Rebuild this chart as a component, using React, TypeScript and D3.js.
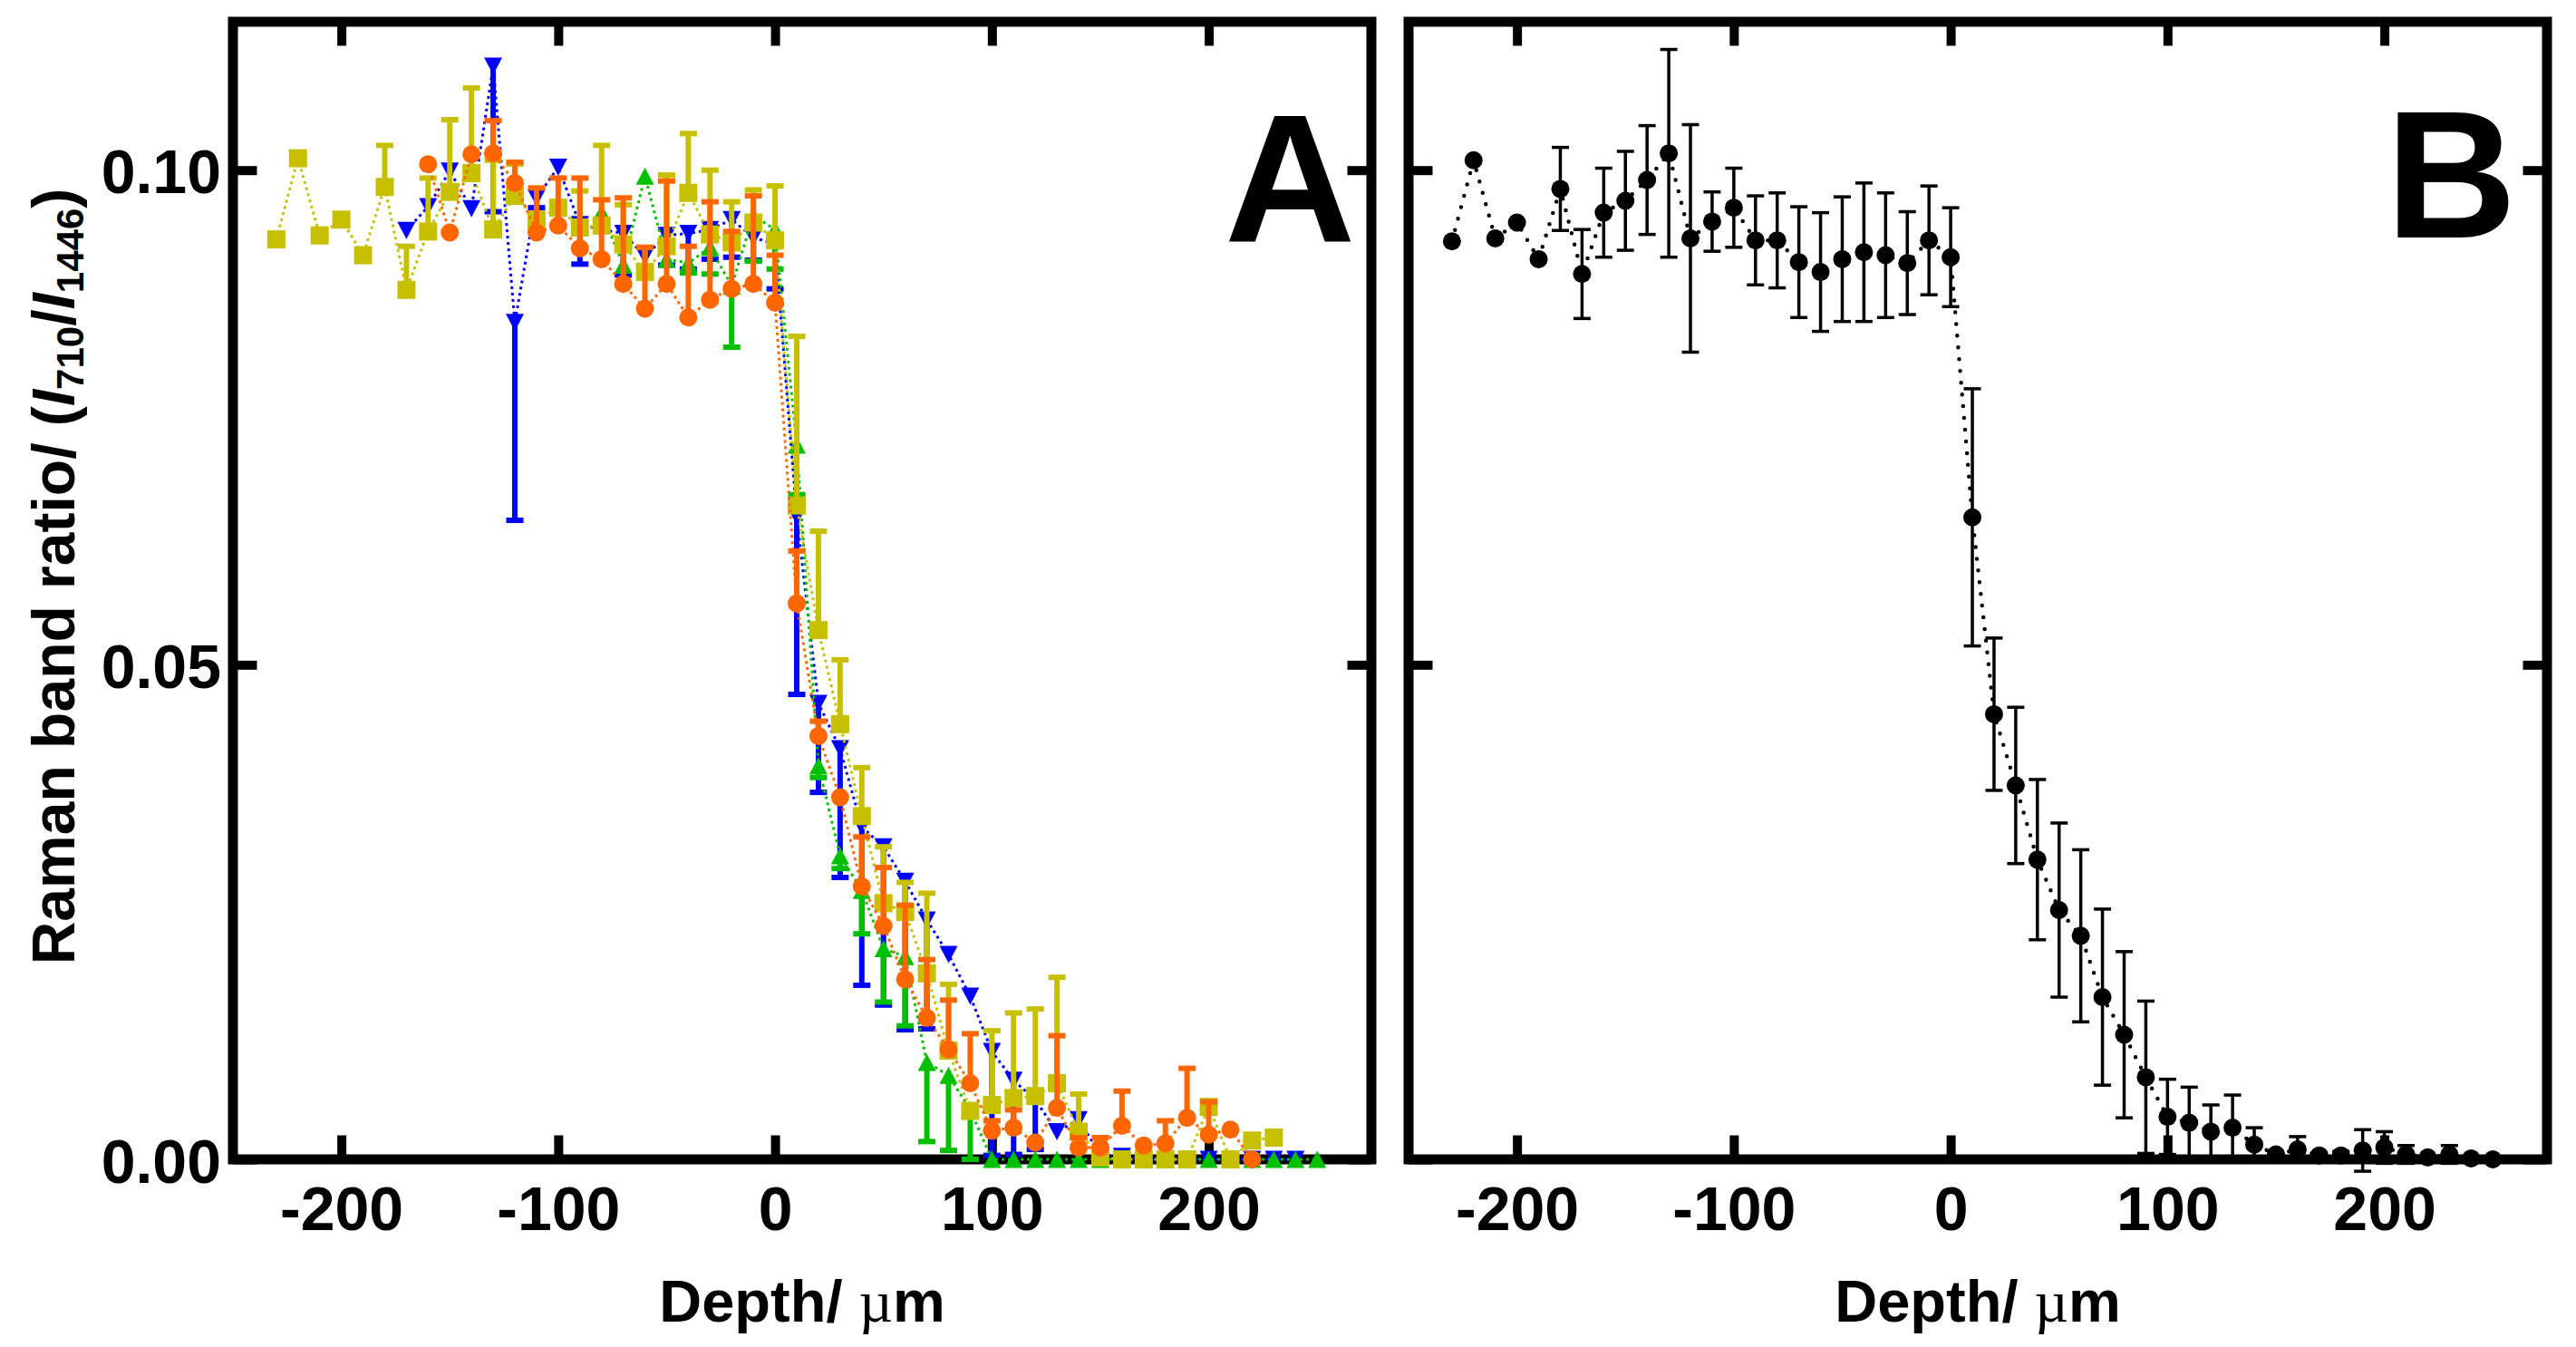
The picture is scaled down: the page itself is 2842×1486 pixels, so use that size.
import * as React from "react";
import * as d3 from "d3";

// depth positions shared by every series (µm)
const depths = [
  -230, -220, -210, -200, -190, -180, -170, -160, -150, -140,
  -130, -120, -110, -100, -90, -80, -70, -60, -50, -40,
  -30, -20, -10, 0, 10, 20, 30, 40, 50, 60,
  70, 80, 90, 100, 110, 120, 130, 140, 150, 160,
  170, 180, 190, 200, 210, 220, 230, 240, 250,
];

// panel A, olive squares
const yellowValues = [
  0.093, 0.1012, 0.0934, 0.095, 0.0914, 0.0983, 0.0879, 0.0938, 0.0978, 0.0997,
  0.094, 0.0974, 0.095, 0.0962, 0.0942, 0.0944, 0.0925, 0.0897, 0.0923, 0.0977,
  0.0935, 0.0927, 0.0947, 0.0929, 0.0661, 0.0535, 0.044, 0.0347, 0.0259, 0.025,
  0.0188, 0.011, 0.0049, 0.0055, 0.0062, 0.0064, 0.0077, 0.0028, 0.0002, 0,
  0, 0, 0, 0.0053, 0, 0.0019, 0.0022, null, null,
];
const yellowErrors = [
  0, 0, 0, 0, 0, 0.0042, 0.0044, 0.0054, 0.0073, 0.0086,
  0.007, 0.0032, 0, 0, 0.0037, 0.0081, 0.004, 0.0025, 0.0072, 0.006,
  0.0065, 0.0041, 0.0033, 0.0055, 0.0171, 0.01, 0.0065, 0.0049, 0.0057, 0.003,
  0.0081, 0.0067, 0, 0.0075, 0.0086, 0.0088, 0.0107, 0.0038, 0, 0,
  0, 0, 0, 0, 0, 0, 0, null, null,
];

// panel A, blue down triangles
const blueValues = [
  null, null, null, null, null, null, 0.0939, 0.0963, 0.0999, 0.0961,
  0.1105, 0.0846, 0.0972, 0.1003, 0.0945, 0.094, 0.0936, 0.0913, 0.0934, 0.0936,
  0.094, 0.095, 0.0932, 0.0925, 0.065, 0.0461, 0.0415, 0.0336, 0.0316, 0.0281,
  0.0242, 0.0207, 0.0165, 0.0109, 0.008, 0.006, 0.0028, 0.004, 0.0005, 0.0003,
  0, 0, 0, 0, 0, 0, 0, 0, null,
];
const blueErrors = [
  null, null, null, null, null, null, 0, 0, 0, 0,
  0.0147, 0.02, 0.001, 0, 0.004, 0, 0.0042, 0, 0.003, 0.0036,
  0.003, 0.0038, 0.0023, 0.0045, 0.018, 0.009, 0.013, 0.016, 0.016, 0.015,
  0.011, 0, 0, 0.0105, 0.0075, 0.005, 0, 0, 0, 0,
  0, 0, 0, 0, 0, 0, 0, 0, null,
];

// panel A, green up triangles
const greenValues = [
  null, null, null, null, null, null, null, null, null, null,
  null, null, null, null, null, 0.0957, 0.0904, 0.0994, 0.091, 0.0906,
  0.0922, 0.0883, 0.0954, 0.094, 0.0722, 0.0398, 0.0307, 0.0272, 0.0213, 0.0205,
  0.0098, 0.0085, 0.005, 0, 0, 0, 0, 0, 0, 0,
  0, 0, 0, 0, 0, 0, 0, 0, 0,
];
const greenErrors = [
  null, null, null, null, null, null, null, null, null, null,
  null, null, null, null, null, 0, 0.002, 0, 0, 0.001,
  0.0027, 0.0062, 0.0046, 0.004, 0.005, 0.0012, 0.0013, 0.0044, 0.0054, 0.007,
  0.008, 0.0076, 0.005, 0, 0, 0, 0, 0, 0, 0,
  0, 0, 0, 0, 0, 0, 0, 0, 0,
];

// panel A, orange circles
const orangeValues = [
  null, null, null, null, null, null, null, 0.1006, 0.0937, 0.1016,
  0.1017, 0.0987, 0.0937, 0.0944, 0.0921, 0.091, 0.0885, 0.086, 0.0885, 0.0851,
  0.0869, 0.088, 0.0885, 0.0866, 0.0562, 0.0428, 0.0366, 0.0276, 0.0236, 0.0182,
  0.0143, 0.0111, 0.0077, 0.0029, 0.0032, 0.0017, 0.0052, 0.0012, 0.0012, 0.0034,
  0.0014, 0.0016, 0.0042, 0.0025, 0.003, 0, null, null, null,
];
const orangeErrors = [
  null, null, null, null, null, null, null, 0, 0, 0,
  0.0033, 0.0021, 0.0045, 0.0048, 0.0071, 0.006, 0.0087, 0.0062, 0.0104, 0.0072,
  0.0099, 0.0058, 0.0089, 0.0048, 0.0053, 0.0015, 0, 0.005, 0.0059, 0.0075,
  0.0059, 0.005, 0.005, 0.001, 0.0018, 0, 0.0073, 0.001, 0.001, 0.0035,
  0, 0.0023, 0.005, 0.0033, 0, 0, null, null, null,
];

// panel B, mean of all measurements
const meanValues = [
  0.0928, 0.101, 0.0931, 0.0947, 0.091, 0.0981, 0.0895, 0.0957, 0.0969, 0.099,
  0.1017, 0.0931, 0.0948, 0.0962, 0.0929, 0.0929, 0.0907, 0.0897, 0.091, 0.0917,
  0.0914, 0.0906, 0.0929, 0.0912, 0.0649, 0.045, 0.0378, 0.0303, 0.0252, 0.0226,
  0.0164, 0.0126, 0.0083, 0.0043, 0.0037, 0.0028, 0.0032, 0.0015, 0.0005, 0.001,
  0.0004, 0.0004, 0.0009, 0.0012, 0.0005, 0.0002, 0.0005, 0.0001, 0,
];
const meanErrors = [
  0, 0, 0, 0, 0, 0.0042, 0.0045, 0.0045, 0.005, 0.0055,
  0.0105, 0.0115, 0.003, 0.004, 0.0045, 0.0048, 0.0056, 0.006, 0.0063, 0.007,
  0.0063, 0.0052, 0.0055, 0.005, 0.013, 0.0077, 0.0079, 0.0081, 0.0088, 0.0087,
  0.0089, 0.0084, 0.0077, 0.0038, 0.0036, 0.0027, 0.0033, 0.0017, 0, 0.0013,
  0, 0.0004, 0.0021, 0.0016, 0.0009, 0, 0.0009, 0, 0,
];

const xTicks = [-200, -100, 0, 100, 200];
const yTicks = [0, 0.05, 0.1];

type Val = number | null;

interface Series {
  values: Val[];
  errors: Val[];
  color: string;
  shape: "circle" | "square" | "up" | "down";
  errDir: number; // 1 up, -1 down, 0 both
  lineWidth: number;
  dash: string;
  cap: string;
  barWidth: number;
}

interface Pt {
  d: number;
  v: number;
  e: number;
}

const font = '"Liberation Sans", Arial, Helvetica, sans-serif';

function markerPath(shape: Series["shape"]) {
  if (shape === "circle") return d3.symbol(d3.symbolCircle, Math.PI * 10 * 10)()!;
  if (shape === "square") return d3.symbol(d3.symbolSquare, 400)()!;
  // triangles, 20 wide x 19 tall, centred on the box
  if (shape === "up") return "M0,-9.5L10,9.5L-10,9.5Z";
  return "M0,9.5L10,-9.5L-10,-9.5Z";
}

function drawChart(el: SVGSVGElement) {
  const svg = d3.select(el);
  svg.selectAll("*").remove();

  const yTop = 24;
  const yBottom = 1279;
  const tick = 26.5;

  const y = d3.scaleLinear().domain([0, 0.115]).range([yBottom, yTop]);

  const seriesA: Series[] = [
    { values: blueValues, errors: blueErrors, color: "#0000ff", shape: "down", errDir: -1, lineWidth: 3, dash: "3,4", cap: "butt", barWidth: 6 },
    { values: greenValues, errors: greenErrors, color: "#00c000", shape: "up", errDir: -1, lineWidth: 3, dash: "3,4", cap: "butt", barWidth: 6 },
    { values: yellowValues, errors: yellowErrors, color: "#c6c000", shape: "square", errDir: 1, lineWidth: 3, dash: "3,4", cap: "butt", barWidth: 6 },
    { values: orangeValues, errors: orangeErrors, color: "#ff6600", shape: "circle", errDir: 1, lineWidth: 3, dash: "3,4", cap: "butt", barWidth: 6 },
  ];
  const seriesB: Series[] = [
    { values: meanValues, errors: meanErrors, color: "#000000", shape: "circle", errDir: 0, lineWidth: 4.5, dash: "0,13", cap: "round", barWidth: 3.5 },
  ];

  const panels = [
    { x0: 257, x1: 1513, label: "A", labelX: 1351, labelY: 266, series: seriesA, yLabels: true },
    { x0: 1554, x1: 2810, label: "B", labelX: 2632, labelY: 262, series: seriesB, yLabels: false },
  ];

  panels.forEach((p) => {
    const x = d3.scaleLinear().domain([-250, 275]).range([p.x0, p.x1]);
    const g = svg.append("g");

    const styleAxis = (a: d3.Selection<SVGGElement, unknown, null, undefined>) => {
      a.select(".domain").remove();
      a.attr("font-family", font).attr("font-size", 68).attr("font-weight", "bold");
      a.selectAll(".tick line").attr("stroke-width", 10).attr("stroke", "#000");
      a.selectAll(".tick text").attr("fill", "#000");
    };

    // bottom axis with labels
    g.append("g")
      .attr("transform", `translate(0, ${yBottom})`)
      .call(
        d3.axisBottom(x).tickValues(xTicks).tickSizeInner(-tick).tickSizeOuter(0).tickPadding(30)
          .tickFormat((d) => String(d))
      )
      .call(styleAxis);
    // top ticks
    g.append("g")
      .attr("transform", `translate(0, ${yTop})`)
      .call(d3.axisTop(x).tickValues(xTicks).tickSizeInner(-tick).tickSizeOuter(0).tickFormat(() => ""))
      .call(styleAxis);
    // left axis
    g.append("g")
      .attr("transform", `translate(${p.x0}, 0)`)
      .call(
        d3.axisLeft(y).tickValues(yTicks).tickSizeInner(-tick).tickSizeOuter(0).tickPadding(13)
          .tickFormat((d) => (p.yLabels ? d3.format(".2f")(d as number) : ""))
      )
      .call(styleAxis)
      .selectAll(".tick text")
      .attr("dy", "0.37em");
    // right ticks
    g.append("g")
      .attr("transform", `translate(${p.x1}, 0)`)
      .call(d3.axisRight(y).tickValues(yTicks).tickSizeInner(-tick).tickSizeOuter(0).tickFormat(() => ""))
      .call(styleAxis);

    // frame
    g.append("rect")
      .attr("x", p.x0)
      .attr("y", yTop)
      .attr("width", p.x1 - p.x0)
      .attr("height", yBottom - yTop)
      .attr("fill", "none")
      .attr("stroke", "#000")
      .attr("stroke-width", 11);

    // x title
    const xt = g.append("text")
      .attr("x", (p.x0 + p.x1) / 2)
      .attr("y", 1458)
      .attr("text-anchor", "middle")
      .attr("font-family", font)
      .attr("font-size", 65)
      .attr("font-weight", "bold");
    xt.append("tspan").text("Depth/ ");
    xt.append("tspan").attr("font-family", '"Liberation Serif", serif').attr("font-weight", "normal").text("µ");
    xt.append("tspan").text("m");

    // panel letter
    g.append("text")
      .attr("x", p.labelX)
      .attr("y", p.labelY)
      .attr("font-family", font)
      .attr("font-size", 200)
      .attr("font-weight", "bold")
      .text(p.label);

    // data
    p.series.forEach((s) => {
      const pts: Pt[] = [];
      depths.forEach((d, i) => {
        const v = s.values[i];
        if (v != null) pts.push({ d, v, e: s.errors[i] ?? 0 });
      });
      const sg = g.append("g");

      const line = d3.line<Pt>().x((q) => x(q.d)).y((q) => y(q.v));
      sg.append("path")
        .attr("d", line(pts))
        .attr("fill", "none")
        .attr("stroke", s.color)
        .attr("stroke-width", s.lineWidth)
        .attr("stroke-dasharray", s.dash)
        .attr("stroke-linecap", s.cap);

      // error bars
      pts.filter((q) => q.e > 0).forEach((q) => {
        const ends = s.errDir === 0 ? [q.v - q.e, q.v + q.e] : [q.v + s.errDir * q.e];
        ends.forEach((end) => {
          sg.append("line")
            .attr("x1", x(q.d)).attr("x2", x(q.d))
            .attr("y1", y(q.v)).attr("y2", y(end))
            .attr("stroke", s.color).attr("stroke-width", s.barWidth);
          sg.append("line")
            .attr("x1", x(q.d) - 9.5).attr("x2", x(q.d) + 9.5)
            .attr("y1", y(end)).attr("y2", y(end))
            .attr("stroke", s.color).attr("stroke-width", s.barWidth);
        });
      });

      // markers
      sg.selectAll("path.marker")
        .data(pts)
        .enter()
        .append("path")
        .attr("class", "marker")
        .attr("d", markerPath(s.shape))
        .attr("transform", (q) => `translate(${x(q.d)}, ${y(q.v)})`)
        .attr("fill", s.color);
    });
  });

  // y title
  const yt = svg.append("text")
    .attr("transform", "translate(82, 636) rotate(-90)")
    .attr("text-anchor", "middle")
    .attr("font-family", font)
    .attr("font-size", 66)
    .attr("font-weight", "bold");
  yt.append("tspan").text("Raman band ratio/ (");
  yt.append("tspan").attr("font-style", "italic").text("I");
  yt.append("tspan").attr("font-size", 42).attr("dy", 10).text("710");
  yt.append("tspan").attr("dy", -10).text("/");
  yt.append("tspan").attr("font-style", "italic").text("I");
  yt.append("tspan").attr("font-size", 42).attr("dy", 10).text("1446");
  yt.append("tspan").attr("dy", -10).text(")");
}

export default function App() {
  const ref = React.useRef<SVGSVGElement>(null);
  React.useEffect(() => {
    document.body.style.margin = "0";
    if (ref.current) drawChart(ref.current);
  }, []);
  return <svg ref={ref} width={2842} height={1486} style={{ display: "block", background: "#fff" }} />;
}
